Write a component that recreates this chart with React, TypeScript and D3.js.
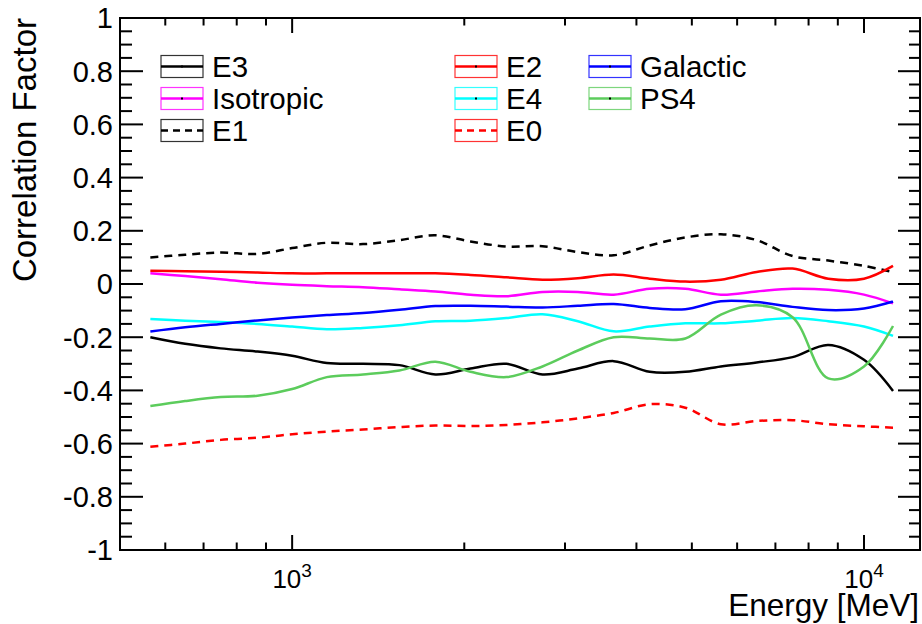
import React from 'react';
import * as d3 from 'd3';

const energies = [565, 650, 750, 870, 1000, 1150, 1330, 1540, 1780, 2050, 2370, 2740, 3160, 3650, 4220, 4870, 5620, 6490, 7500, 8660, 10000, 11240];

const e3 = [-0.200, -0.225, -0.242, -0.254, -0.270, -0.297, -0.300, -0.305, -0.340, -0.318, -0.300, -0.340, -0.318, -0.290, -0.330, -0.330, -0.310, -0.295, -0.275, -0.229, -0.285, -0.402];
const isotropic = [0.040, 0.030, 0.018, 0.005, -0.003, -0.008, -0.012, -0.020, -0.028, -0.040, -0.046, -0.030, -0.030, -0.040, -0.018, -0.018, -0.040, -0.028, -0.018, -0.022, -0.040, -0.073];
const e1 = [0.100, 0.110, 0.118, 0.113, 0.135, 0.155, 0.150, 0.165, 0.183, 0.160, 0.141, 0.142, 0.120, 0.108, 0.145, 0.175, 0.187, 0.165, 0.105, 0.088, 0.068, 0.045];
const e2 = [0.050, 0.048, 0.046, 0.043, 0.040, 0.040, 0.040, 0.040, 0.040, 0.034, 0.025, 0.016, 0.022, 0.036, 0.020, 0.009, 0.016, 0.045, 0.058, 0.020, 0.020, 0.068];
const e4 = [-0.132, -0.138, -0.143, -0.150, -0.160, -0.170, -0.165, -0.155, -0.140, -0.138, -0.128, -0.114, -0.140, -0.178, -0.160, -0.148, -0.148, -0.138, -0.128, -0.140, -0.160, -0.195];
const e0 = [-0.612, -0.600, -0.586, -0.578, -0.565, -0.555, -0.547, -0.538, -0.532, -0.534, -0.530, -0.520, -0.505, -0.485, -0.452, -0.465, -0.527, -0.515, -0.512, -0.527, -0.535, -0.540];
const galactic = [-0.179, -0.163, -0.150, -0.137, -0.126, -0.117, -0.109, -0.097, -0.083, -0.082, -0.085, -0.088, -0.082, -0.075, -0.090, -0.095, -0.065, -0.068, -0.086, -0.098, -0.092, -0.066];
const ps4 = [-0.459, -0.440, -0.425, -0.420, -0.395, -0.350, -0.340, -0.325, -0.292, -0.330, -0.350, -0.310, -0.250, -0.200, -0.205, -0.205, -0.115, -0.080, -0.125, -0.355, -0.310, -0.158];

const seriesNames = ['E3', 'Isotropic', 'E1', 'E2', 'E4', 'E0', 'Galactic', 'PS4'];
const seriesValues = [e3, isotropic, e1, e2, e4, e0, galactic, ps4];
const seriesColors = ['#000000', '#ff00ff', '#000000', '#ff0000', '#00ffff', '#ff0000', '#0000ff', '#5ccc5c'];
const seriesDashed = [false, false, true, false, false, true, false, false];

const yTicks = [-1, -0.8, -0.6, -0.4, -0.2, 0, 0.2, 0.4, 0.6, 0.8, 1];
const yTickLabels = ['-1', '-0.8', '-0.6', '-0.4', '-0.2', '0', '0.2', '0.4', '0.6', '0.8', '1'];
const xMajorTicks = [1000, 10000];
const xMajorExponents = ['3', '4'];
const xMinorTicks = [600, 700, 800, 900, 2000, 3000, 4000, 5000, 6000, 7000, 8000, 9000];

const W = 922, H = 624;
const L = 120, R = 920, T = 18, B = 550;
const FONT = '"Liberation Sans", Arial, Helvetica, sans-serif';

export default function App() {
  const x = d3.scaleLog().domain([500, 12530]).range([L, R]);
  const y = d3.scaleLinear().domain([-1, 1]).range([B, T]);
  const line = d3.line<[number, number]>()
    .x(d => x(d[0]))
    .y(d => y(d[1]))
    .curve(d3.curveCatmullRom.alpha(0.5));

  const yMinor: number[] = [];
  for (let i = 0; i <= 40; i++) {
    const v = -1 + i * 0.05;
    if (i % 4 !== 0) yMinor.push(v);
  }

  const legendCols = [161, 455, 589];
  const legendRows = [66.5, 98.5, 130.5];
  const boxW = 42, boxH = 22;

  return (
    <svg width={W} height={H} style={{ position: 'absolute', left: 0, top: 0, background: '#fff' }} fontFamily={FONT}>
      <rect x={0} y={0} width={W} height={H} fill="#fff" />
      {seriesValues.map((vals, i) => (
        <path key={seriesNames[i]}
          d={line(energies.map((e, j) => [e, vals[j]] as [number, number])) || ''}
          fill="none" stroke={seriesColors[i]} strokeWidth={2.5}
          strokeDasharray={seriesDashed[i] ? '8,6' : undefined} />
      ))}
      <rect x={L} y={T} width={R - L} height={B - T} fill="none" stroke="#000" strokeWidth={2} />
      {yTicks.map(v => (
        <g key={'yt' + v}>
          <line x1={L} x2={L + 23} y1={y(v)} y2={y(v)} stroke="#000" strokeWidth={2} />
          <line x1={R} x2={R - 22} y1={y(v)} y2={y(v)} stroke="#000" strokeWidth={2} />
        </g>
      ))}
      {yMinor.map(v => (
        <g key={'ym' + v}>
          <line x1={L} x2={L + 12} y1={y(v)} y2={y(v)} stroke="#000" strokeWidth={2} />
          <line x1={R} x2={R - 11} y1={y(v)} y2={y(v)} stroke="#000" strokeWidth={2} />
        </g>
      ))}
      {yTicks.map((v, i) => (
        <text key={'yl' + v} x={113} y={y(v)} dy="0.36em" textAnchor="end" fontSize={29}>{yTickLabels[i]}</text>
      ))}
      {xMajorTicks.map(v => (
        <g key={'xt' + v}>
          <line x1={x(v)} x2={x(v)} y1={B} y2={B - 15} stroke="#000" strokeWidth={2} />
          <line x1={x(v)} x2={x(v)} y1={T} y2={T + 15} stroke="#000" strokeWidth={2} />
        </g>
      ))}
      {xMinorTicks.map(v => (
        <g key={'xm' + v}>
          <line x1={x(v)} x2={x(v)} y1={B} y2={B - 7.5} stroke="#000" strokeWidth={2} />
          <line x1={x(v)} x2={x(v)} y1={T} y2={T + 7.5} stroke="#000" strokeWidth={2} />
        </g>
      ))}
      {xMajorTicks.map((v, i) => (
        <text key={'xl' + v} x={x(v)} y={588} textAnchor="middle" fontSize={26}>
          <tspan>10</tspan>
          <tspan dy={-11} fontSize={19}>{xMajorExponents[i]}</tspan>
        </text>
      ))}
      <text x={919} y={616} textAnchor="end" fontSize={31.5}>Energy [MeV]</text>
      <text transform="translate(36,18) rotate(-90)" textAnchor="end" fontSize={33}>Correlation Factor</text>
      {seriesNames.map((name, i) => {
        const cx = legendCols[Math.floor(i / 3)];
        const cy = legendRows[i % 3];
        return (
          <g key={'lg' + name}>
            <rect x={cx} y={cy - boxH / 2} width={boxW} height={boxH} fill="none" stroke={seriesColors[i]} strokeWidth={1.2} opacity={0.8} />
            <line x1={cx} x2={cx + boxW} y1={cy} y2={cy} stroke={seriesColors[i]} strokeWidth={2.5}
              strokeDasharray={seriesDashed[i] ? '7,5' : undefined} />
            {!seriesDashed[i] && <rect x={cx + boxW / 2 - 1} y={cy - 1} width={2} height={2} fill="#000" />}
            <text x={cx + 51} y={cy} dy="0.36em" fontSize={29.5}>{name}</text>
          </g>
        );
      })}
    </svg>
  );
}
